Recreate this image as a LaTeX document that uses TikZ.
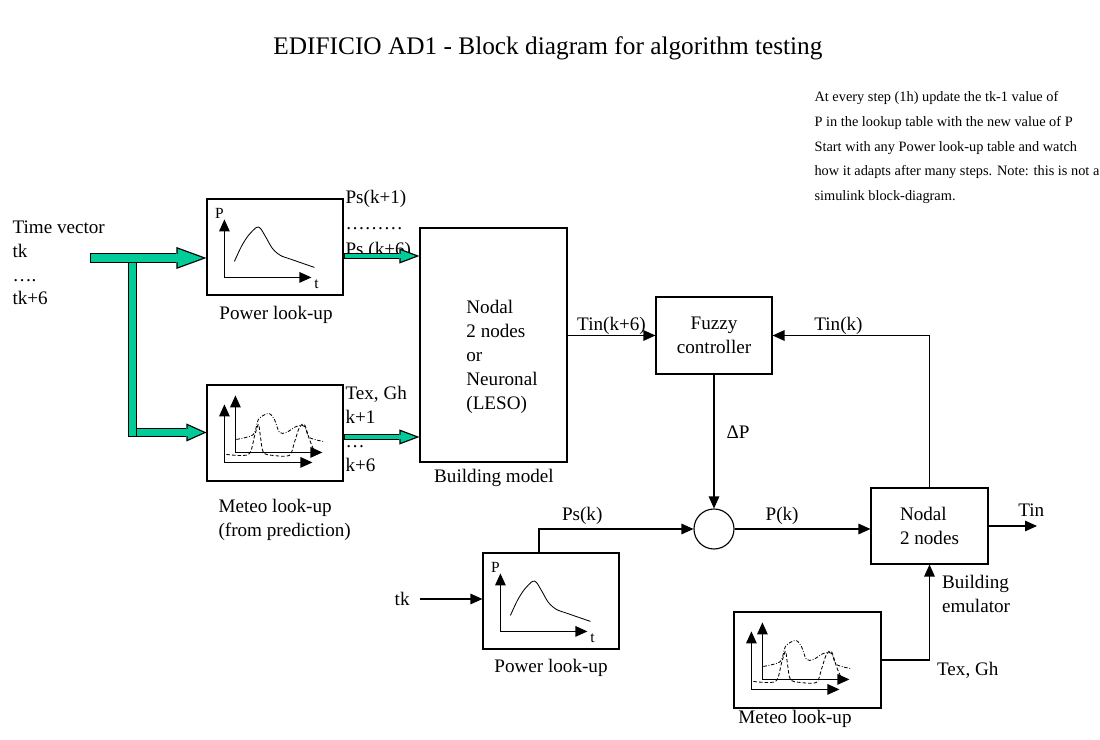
\documentclass[tikz,border=0pt]{standalone}
\usepackage{fontspec}
\setmainfont{Liberation Serif}
\usetikzlibrary{arrows,arrows.meta,positioning,calc}
\definecolor{flowgreen}{RGB}{0,204,153}

\begin{document}
\begin{tikzpicture}[x=0.025cm,y=-0.025cm,->,>={Triangle[length=8.5pt,width=7.5pt]},thick,
  font=\fontsize{13.6}{17}\selectfont,
  block/.style={rectangle,draw,inner sep=0pt,minimum width=3.4cm,minimum height=2.4cm},
  label text/.style={inner sep=0pt,align=left},
  axis label/.style={inner sep=0pt,font=\fontsize{11}{13}\selectfont},
  flow big/.style={draw=flowgreen,line width=5.3pt,shorten <=0.9pt,shorten >=2.6pt,
    -{Triangle[length=17.8pt,width=13pt,line width=0pt]},
    preaction={draw=black,line width=7.1pt,shorten <=0pt,shorten >=0pt,
      -{Triangle[length=21.3pt,width=15.6pt,line width=0pt]}}},
  flow mid/.style={draw=flowgreen,line width=5.3pt,shorten <=0.9pt,shorten >=2.2pt,
    -{Triangle[length=11.1pt,width=10pt,line width=0pt]},
    preaction={draw=black,line width=7.1pt,shorten <=0pt,shorten >=0pt,
      -{Triangle[length=14.2pt,width=12.8pt,line width=0pt]}}},
  flow small/.style={draw=flowgreen,line width=2.5pt,shorten <=0.9pt,shorten >=2.55pt,
    -{Triangle[length=10.75pt,width=8.1pt,line width=0pt]},
    preaction={draw=black,line width=4.3pt,shorten <=0pt,shorten >=0pt,
      -{Triangle[length=14.2pt,width=10.7pt,line width=0pt]}}},
  flow bar/.style={-,draw=flowgreen,line width=4.6pt,line cap=rect,
    preaction={draw=black,line width=6.4pt,line cap=rect}}]
  \useasboundingbox (0,0) rectangle (1100,740);

  \node (title) at (548,48) [font=\fontsize{18}{21}\selectfont] {EDIFICIO AD1 - Block diagram for algorithm testing};
  \node[label text,anchor=north west,font=\fontsize{10.2}{17.6}\selectfont] (note) at (814,91) {At every step (1h) update the tk-1 value of\\P in the lookup table with the new value of P\\Start with any Power look-up table and watch\\how it adapts after many steps. Note: this is not a\\simulink block-diagram.};
  \node[label text,anchor=north west] (tvec) at (12,220) {Time vector\\tk\\….\\tk+6};

  \node[block] (pow1) at (275,247) {};
  \node[block] (met1) at (275,433) {};
  \node[block,minimum width=3.675cm,minimum height=5.85cm] (bm) at (493.5,345) {};
  \node[label text] (bmtext) at (502,357) {Nodal\\2 nodes\\or\\Neuronal\\(LESO)};
  \node[block,minimum width=2.9cm,minimum height=1.925cm,align=center] (fz) at (714,335.5) {Fuzzy\\controller};
  \node[circle,draw,minimum size=1cm,inner sep=0pt] (circ) at (714,529) {};
  \node[block,minimum width=2.925cm,minimum height=1.9cm,align=left] (nod) at (929.5,526) {Nodal\\2 nodes};
  \node[block] (pow2) at (551,601) {};
  \node[block,minimum width=3.675cm] (met2) at (807.5,660) {};

  \node (pow1cap) at (276,315) {Power look-up};
  \node[label text,anchor=north west] (met1cap) at (218,499) {Meteo look-up\\(from prediction)};
  \node (bmcap) at (494,478) {Building model};
  \node (pow2cap) at (551,668) {Power look-up};
  \node (met2cap) at (795,719) {Meteo look-up};

  \node[label text,anchor=north west,font=\fontsize{13.6}{18.5}\selectfont] (pslist) at (345,190) {Ps(k+1)\\………\\Ps (k+6)};
  \node[label text,anchor=north west] (texlist) at (345,386) {Tex, Gh\\k+1\\…\\k+6};

  \foreach \b in {pow1,pow2}{
    \begin{scope}[shift={(\b.north west)}]
      \draw (18,79) -- (18,21);
      \draw (18,79) -- (105,79);
      \draw[-,line width=0.6pt] plot[smooth] coordinates {(28,63) (35,48) (42,37) (50,29) (54,30) (59,38) (66,50) (74,57) (85,61) (108,69)};
      \node[axis label] at (13,15) {P};
      \node[axis label] at (110,86) {t};
    \end{scope}
  }
  \foreach \b in {met1,met2}{
    \begin{scope}[shift={(\b.north west)}]
      \draw (18,78) -- (18,20);
      \draw (18,78) -- (106,78);
      \draw (29,68) -- (29,11);
      \draw (29,68) -- (116,68);
      \draw[-,line width=0.6pt,dash pattern=on 2.5pt off 1.2pt on 0.6pt off 1.2pt] plot[smooth] coordinates {(30,55) (47,50) (52,35) (62,29) (68,35) (73,48) (80,48) (90,42) (98,42) (103,53) (117,57)};
      \draw[-,line width=0.6pt,dash pattern=on 2.5pt off 1.5pt] plot[smooth] coordinates {(20,70) (42,70) (48,52) (52,40) (54,52) (57,68) (67,71) (83,71) (88,58) (93,43) (98,40) (103,55) (108,67)};
    \end{scope}
  }

  \coordinate (tvin) at (90,258);
  \coordinate (split) at (132.5,266.5);
  \coordinate (splitlow) at (132.5,432.5);
  \draw[flow big] (tvin) -- (tvin -| pow1.west);
  \draw[flow mid] (splitlow) -- (splitlow -| met1.west);
  \draw[flow bar] (split) -- (splitlow);
  \draw[flow small] ($(pow1.east)+(0,9)$) coordinate (psk) -- (psk -| bm.west);
  \draw[flow small] ($(met1.east)+(0,4)$) coordinate (tex) -- (tex -| bm.west);

  \path (bm.east |- fz.west) edge node[above,label text] {Tin(k+6)} (fz.west);
  \path (fz.south) edge node[right=8.5pt,pos=0.43,label text] {ΔP} (circ.north);
  \path (circ.east) edge node[above=2.5pt,pos=0.35,label text] {P(k)} (nod.west |- circ.east);
  \draw (nod.north) |- node[above,pos=0.79,label text] {Tin(k)} (fz.east);

  \coordinate (tout) at (1037,526);
  \draw (nod.east) -- node[above=6pt,pos=0.88,label text] {Tin} (tout);

  \coordinate (pskin) at (539,527);
  \draw (pow2.north -| pskin) |- node[above=2.5pt,pos=0.64,label text] {Ps(k)} (circ.west);

  \coordinate (tkin) at (420,599);
  \draw (tkin) node[left=7pt,label text] (tklab) {tk} -- (pow2.west |- tkin);

  \draw (met2.east) -| node[pos=0.5,anchor=north west,inner sep=1pt,xshift=4pt] (texgh) {Tex, Gh}
    node[pos=0.948,anchor=north west,label text,xshift=8.5pt] (emul) {Building\\emulator} (nod.south);
\end{tikzpicture}
\end{document}
